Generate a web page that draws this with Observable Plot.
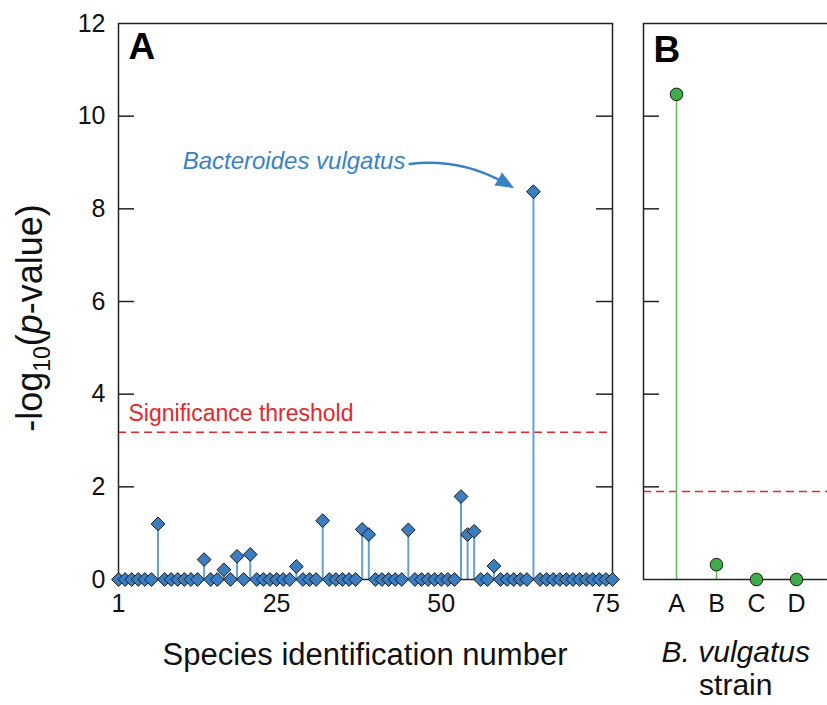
<!DOCTYPE html>
<html><head><meta charset="utf-8">
<script src="https://cdn.jsdelivr.net/npm/d3@7"></script>
<script src="https://cdn.jsdelivr.net/npm/@observablehq/plot@0.6"></script>
<style>
html,body{margin:0;padding:0;background:#fff;overflow:hidden;width:827px;height:705px}
#wrap{position:relative;width:827px;height:705px;overflow:hidden}
#wrap svg{position:absolute;top:0;overflow:visible}
</style></head><body><div id="wrap"></div>
<script>
// ---------- data ----------
const speciesIds = d3.range(1, 77);
const speciesValues = [
  0, 0, 0, 0, 0, 0, 1.2, 0, 0, 0,
  0, 0, 0, 0.43, 0, 0, 0.21, 0, 0.5, 0,
  0.54, 0, 0, 0, 0, 0, 0, 0.28, 0, 0,
  0, 1.27, 0, 0, 0, 0, 0, 1.08, 0.97, 0,
  0, 0, 0, 0, 1.07, 0, 0, 0, 0, 0,
  0, 0, 1.79, 0.97, 1.04, 0, 0, 0.29, 0, 0,
  0, 0, 0, 8.37, 0, 0, 0, 0, 0, 0,
  0, 0, 0, 0, 0, 0
];
const xTickLabels = [1, 25, 50, 75];
const yTickValues = [0, 2, 4, 6, 8, 10, 12];
const thresholdA = 3.18;
const annotatedId = 64;
const annotationLabel = "Bacteroides vulgatus";

const strains = ["A", "B", "C", "D"];
const strainValues = [10.47, 0.32, 0, 0];
const thresholdB = 1.9;

const dataA = speciesIds.map((id, i) => ({id, v: speciesValues[i]}));
const dataB = strains.map((s, i) => ({s, v: strainValues[i]}));
const annot = dataA.filter(d => d.id === annotatedId).map(d => ({...d, label: annotationLabel}));

const FONT = "'Liberation Sans', Arial, Helvetica, sans-serif";
const BLUE_FILL = "#3b7dbf", BLUE_STEM = "#62a0d8", BLUE_TEXT = "#3a82c6";
const GREEN_FILL = "#3fae49", GREEN_STEM = "#63bf5f";
const RED = "#e8262b";

const wrap = document.getElementById("wrap");

// ---------- panel A ----------
const WA = 622, MLA = 118, MRA = 10, innerA = WA - MLA - MRA;
const plotA = Plot.plot({
  width: WA, height: 705,
  marginLeft: MLA, marginRight: MRA, marginTop: 23, marginBottom: 126,
  style: {fontFamily: FONT, fontSize: "25px", color: "#111", background: "transparent", overflow: "visible"},
  x: {domain: [1, 76]},
  y: {domain: [0, 12]},
  marks: [
    Plot.ruleY([thresholdA], {stroke: RED, strokeWidth: 1.5, strokeDasharray: "8,5"}),
    Plot.text([thresholdA], {y: d => d, text: () => "Significance threshold", frameAnchor: "left", textAnchor: "start", dx: 10, dy: -19, fill: RED, fontSize: 23}),
    Plot.ruleX(dataA.filter(d => d.v > 0), {x: "id", y1: 0, y2: "v", stroke: BLUE_STEM, strokeWidth: 2}),
    Plot.frame({stroke: "#222", strokeWidth: 1.5}),
    Plot.tickY(yTickValues.slice(1, -1), {y: d => d, insetRight: innerA - 16, stroke: "#222", strokeWidth: 1.5}),
    Plot.tickY(yTickValues.slice(1, -1), {y: d => d, insetLeft: innerA - 16, stroke: "#222", strokeWidth: 1.5}),
    Plot.axisX({ticks: xTickLabels, tickSize: 0, tickPadding: 15, label: null, fontSize: 25}),
    Plot.axisY({ticks: yTickValues, tickSize: 0, tickPadding: 13, label: null, fontSize: 25}),
    Plot.dot(dataA, {x: "id", y: "v", symbol: "diamond2", r: 6.2, fill: BLUE_FILL, stroke: "#1a1a1a", strokeWidth: 1}),
    Plot.text(annot, {x: "id", y: "v", text: "label", textAnchor: "end", dx: -128, dy: -30, fill: BLUE_TEXT, fontSize: 24, fontStyle: "italic"}),
    Plot.arrow(annot, {x1: d => d.id - 18.8, y1: d => d.v + 0.6, x2: d => d.id - 4.6, y2: d => d.v + 0.21, bend: 18, stroke: BLUE_TEXT, strokeWidth: 2.5, headLength: 0}),
    Plot.vector(annot, {x: d => d.id - 3.1, y: d => d.v + 0.09, length: 17, rotate: 120, anchor: "end", shape: "spike", r: 7, fill: BLUE_TEXT, stroke: BLUE_TEXT, strokeWidth: 1}),
    Plot.text(["A"], {frameAnchor: "top-left", text: d => d, dx: 10, dy: 9, lineAnchor: "top", textAnchor: "start", fontSize: 37, fontWeight: "bold", fill: "#000"})
  ]
});
plotA.style.left = "0px";
wrap.appendChild(plotA);

// axis titles for A (rich text)
const sa = d3.select(plotA);
sa.append("text").attr("x", MLA + innerA / 2).attr("y", 665).attr("text-anchor", "middle")
  .attr("font-family", FONT).attr("font-size", 31).attr("fill", "#111").text("Species identification number");
const yl = sa.append("text").attr("transform", "translate(42,318) rotate(-90)").attr("text-anchor", "middle")
  .attr("font-family", FONT).attr("font-size", 36).attr("fill", "#111");
yl.append("tspan").text("-log");
yl.append("tspan").attr("font-size", 23).attr("dy", 8).text("10");
yl.append("tspan").attr("dy", -8).text("(");
yl.append("tspan").attr("font-style", "italic").text("p");
yl.append("tspan").text("-value)");

// ---------- panel B ----------
const LB = 620, WB = 215, MLB = 23, MRB = 6.5;
const plotB = Plot.plot({
  width: WB, height: 705,
  marginLeft: MLB, marginRight: MRB, marginTop: 23, marginBottom: 126,
  style: {fontFamily: FONT, fontSize: "25px", color: "#111", background: "transparent", overflow: "visible"},
  x: {type: "point", domain: strains, padding: 0.8},
  y: {domain: [0, 12], axis: null},
  marks: [
    Plot.ruleY([thresholdB], {stroke: RED, strokeWidth: 1.5, strokeDasharray: "8,5"}),
    Plot.ruleX(dataB.filter(d => d.v > 0), {x: "s", y1: 0, y2: "v", stroke: GREEN_STEM, strokeWidth: 1.6}),
    Plot.frame({stroke: "#222", strokeWidth: 1.5}),
    Plot.tickY(yTickValues.slice(1, -1), {y: d => d, insetRight: (WB - MLB - MRB) - 16, stroke: "#222", strokeWidth: 1.5}),
    Plot.axisX({tickSize: 0, tickPadding: 15, label: null, fontSize: 25}),
    Plot.dot(dataB, {x: "s", y: "v", r: 6.3, fill: GREEN_FILL, stroke: "#1a1a1a", strokeWidth: 1}),
    Plot.text(["B"], {frameAnchor: "top-left", text: d => d, dx: 10, dy: 12, lineAnchor: "top", textAnchor: "start", fontSize: 37, fontWeight: "bold", fill: "#000"})
  ]
});
plotB.style.left = LB + "px";
wrap.appendChild(plotB);
const sb = d3.select(plotB);
const cx = MLB + (WB - MLB - MRB) / 2;
sb.append("text").attr("x", cx).attr("y", 662).attr("text-anchor", "middle")
  .attr("font-family", FONT).attr("font-size", 30).attr("font-style", "italic").attr("fill", "#111").text("B. vulgatus");
sb.append("text").attr("x", cx).attr("y", 695).attr("text-anchor", "middle")
  .attr("font-family", FONT).attr("font-size", 30).attr("fill", "#111").text("strain");
</script></body></html>
